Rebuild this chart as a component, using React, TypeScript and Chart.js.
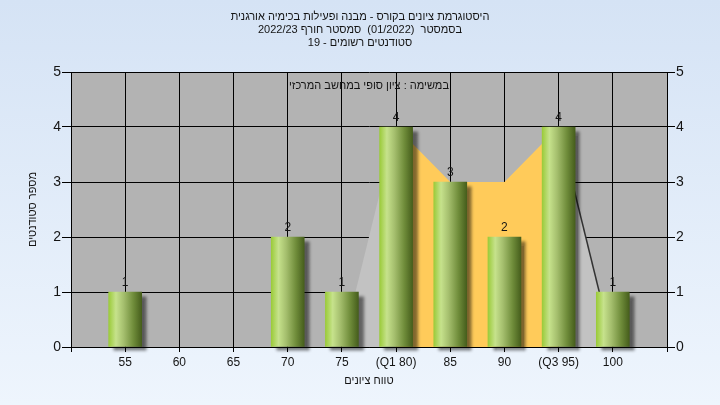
import React, { useEffect, useRef } from 'react';
import { Chart, registerables } from 'chart.js';

Chart.register(...registerables);

// ---- data ----
const gradeBins = [55, 60, 65, 70, 75, 80, 85, 90, 95, 100];
const studentCounts = [1, 0, 0, 2, 1, 4, 3, 2, 4, 1];
const specialTickLabels: Record<number, string> = { 80: '(Q1 80)', 95: '(Q3 95)' };
const axisMin = 50;
const axisMax = 105;
const yMax = 5;

const leftTailX = [75, 80];
const leftTailY = [0, 4];
const iqrX = [80, 85, 90, 95];
const iqrY = [4, 3, 3, 4];
const rightTailX = [95, 100];
const rightTailY = [4, 0];

const titleLines = [
  'היסטוגרמת ציונים בקורס - מבנה ופעילות בכימיה אורגנית',
  'בסמסטר  (01/2022)  סמסטר חורף 2022/23',
  'סטודנטים רשומים - 19',
];
const innerCaption = 'במשימה : ציון סופי במחשב המרכזי';
const yTitle = 'מספר סטודנטים';
const xTitle = 'טווח ציונים';

const FONT = "'Liberation Sans', Arial, sans-serif";
const TEXT = '#141414';
const BAR_W = 33;

const toPts = (xs: number[], ys: number[]) => xs.map((x, i) => ({ x, y: ys[i] }));
const toBarPts = (xs: number[], ys: number[]) => xs.map((x, i) => ({ x, y: ys[i] === 0 ? null : ys[i] }));

export default function App() {
  const ref = useRef<HTMLCanvasElement | null>(null);

  useEffect(() => {
    const canvas = ref.current;
    if (!canvas) return;

    const bgPlugin = {
      id: 'bgPlugin',
      beforeDraw(chart: any) {
        const { ctx, width, height, chartArea } = chart;
        ctx.save();
        const g = ctx.createLinearGradient(0, 0, 0, height);
        g.addColorStop(0, '#D5E3F5');
        g.addColorStop(1, '#EEF5FD');
        ctx.fillStyle = g;
        ctx.fillRect(0, 0, width, height);
        ctx.fillStyle = '#B3B3B3';
        ctx.fillRect(chartArea.left, chartArea.top, chartArea.right - chartArea.left, chartArea.bottom - chartArea.top);
        ctx.restore();
      },
      beforeDatasetsDraw(chart: any) {
        const { ctx, chartArea } = chart;
        ctx.save();
        ctx.font = `11px ${FONT}`;
        ctx.fillStyle = TEXT;
        ctx.textAlign = 'center';
        ctx.textBaseline = 'middle';
        ctx.fillText(innerCaption, (chartArea.left + chartArea.right) / 2, chartArea.top + 14);
        ctx.restore();
      },
    };

    const shadowPlugin = {
      id: 'shadowPlugin',
      beforeDatasetDraw(chart: any, args: any) {
        if (args.index !== 0) return;
        const ctx = chart.ctx;
        const meta = chart.getDatasetMeta(0);
        meta.data.forEach((el: any) => {
          const x = el.x;
          const w = el.width;
          if (!isFinite(x) || !isFinite(w)) return;
          const g = ctx.createLinearGradient(x - w / 2, 0, x + w / 2, 0);
          g.addColorStop(0, '#9BCB3A');
          g.addColorStop(0.22, '#C6E28C');
          g.addColorStop(0.45, '#A5BF6E');
          g.addColorStop(0.75, '#6F8C3A');
          g.addColorStop(1, '#465E1C');
          el.options = Object.assign({}, el.options, { backgroundColor: g });
        });
        ctx.save();
        ctx.shadowColor = 'rgba(0,0,0,0.5)';
        ctx.shadowOffsetX = 5;
        ctx.shadowOffsetY = 4;
        ctx.shadowBlur = 3;
      },
      afterDatasetDraw(chart: any, args: any) {
        if (args.index !== 0) return;
        chart.ctx.restore();
      },
      afterDatasetsDraw(chart: any) {
        const meta = chart.getDatasetMeta(0);
        const ctx = chart.ctx;
        ctx.save();
        ctx.font = `12px ${FONT}`;
        ctx.fillStyle = TEXT;
        ctx.textAlign = 'center';
        ctx.textBaseline = 'bottom';
        meta.data.forEach((el: any, i: number) => {
          const v = studentCounts[i];
          if (!v) return;
          ctx.fillText(String(v), el.x, el.y - 3);
        });
        ctx.restore();
      },
    };

    const chart = new Chart(canvas, {
      type: 'bar',
      data: {
        datasets: [
          {
            type: 'bar',
            data: toBarPts(gradeBins, studentCounts) as any,
            backgroundColor: '#9ACB3C',
            borderWidth: 0,
            barThickness: BAR_W,
            order: 0,
            clip: false as any,
          },
          {
            type: 'line',
            data: toPts(leftTailX, leftTailY) as any,
            borderWidth: 0,
            borderColor: 'rgba(0,0,0,0)',
            backgroundColor: '#C2C2C2',
            fill: 'origin',
            pointRadius: 0,
            order: 1,
          },
          {
            type: 'line',
            data: toPts(iqrX, iqrY) as any,
            borderWidth: 0,
            borderColor: 'rgba(0,0,0,0)',
            backgroundColor: '#FFCB5A',
            fill: 'origin',
            pointRadius: 0,
            order: 1,
          },
          {
            type: 'line',
            data: toPts(rightTailX, rightTailY) as any,
            borderWidth: 1.5,
            borderColor: '#333333',
            backgroundColor: '#C2C2C2',
            fill: 'origin',
            pointRadius: 0,
            order: 1,
          },
        ],
      },
      options: {
        responsive: false,
        animation: false,
        events: [],
        layout: { padding: 0 },
        plugins: {
          legend: { display: false },
          tooltip: { enabled: false },
          title: {
            display: true,
            text: titleLines,
            color: TEXT,
            font: { family: FONT, size: 11, weight: 'normal', lineHeight: 1.15 },
            padding: { top: 11, bottom: 23.05 },
          },
        },
        scales: {
          x: {
            type: 'linear',
            min: axisMin,
            max: axisMax,
            offset: false,
            afterFit: (s: any) => { s.height = 58; },
            ticks: {
              stepSize: 5,
              autoSkip: false,
              maxRotation: 0,
              padding: 3,
              color: TEXT,
              font: { family: FONT, size: 12 },
              callback: (v: any) => {
                const n = Number(v);
                if (n === axisMin || n === axisMax) return '';
                return specialTickLabels[n] ?? String(n);
              },
            },
            grid: { offset: false, color: '#000', lineWidth: 1, tickLength: 5, tickColor: '#000' },
            border: { color: '#000', width: 1 },
            title: {
              display: true,
              text: xTitle,
              color: TEXT,
              font: { family: FONT, size: 11 },
              padding: { top: 0, bottom: 17 },
            },
          },
          y: {
            type: 'linear',
            position: 'left',
            min: 0,
            max: yMax,
            afterFit: (s: any) => { s.width = 71; },
            ticks: { stepSize: 1, padding: 1, color: TEXT, font: { family: FONT, size: 14 } },
            grid: { color: '#000', lineWidth: 1, tickLength: 9, tickColor: '#000' },
            border: { color: '#000', width: 1 },
            title: {
              display: true,
              text: yTitle,
              color: TEXT,
              font: { family: FONT, size: 11 },
              padding: { top: 26, bottom: 0 },
            },
          },
          y2: {
            type: 'linear',
            position: 'right',
            min: 0,
            max: yMax,
            afterFit: (s: any) => { s.width = 53; },
            ticks: { stepSize: 1, padding: 1, color: TEXT, font: { family: FONT, size: 14 } },
            grid: { drawOnChartArea: false, color: '#000', tickLength: 8, tickColor: '#000' },
            border: { color: '#000', width: 1 },
          },
        },
      },
      plugins: [bgPlugin, shadowPlugin],
    } as any);

    return () => chart.destroy();
  }, []);

  return (
    <div style={{ position: 'absolute', left: 0, top: 0, width: 720, height: 405 }}>
      <canvas ref={ref} width={720} height={405} dir="rtl" style={{ direction: 'rtl', display: 'block' }} />
    </div>
  );
}
